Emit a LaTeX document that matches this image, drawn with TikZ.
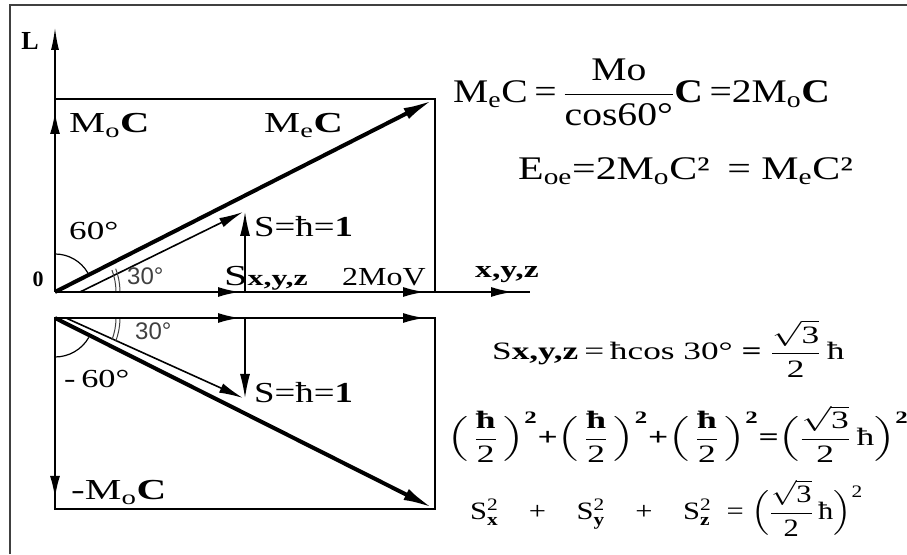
\RequirePackage{fix-cm}
\documentclass[tikz,border=0pt]{standalone}
\usepackage{amsmath}
\usepackage{graphicx}
\usepackage{fontspec}
\setmainfont{Liberation Serif}
\newfontfamily\sansf{Liberation Sans}
\newcommand{\hx}[2]{\scalebox{#1}[1]{#2}}
\usetikzlibrary{arrows.meta}
\tikzset{
  frame/.style={line width=1.5pt, draw=black!75},
  edge/.style={line width=2.2pt},
  axis/.style={line width=1.3pt},
  bigvec/.style={line width=4pt, -{Latex[length=30pt,width=12pt]}},
  svec/.style={line width=1.6pt, -{Latex[length=24pt,width=10pt]}},
  midtip/.style={line width=2pt, -{Latex[length=22pt,width=10pt]}},
  angarc/.style={line width=1.2pt},
  smallarc/.style={line width=1pt, draw=black!75},
  lab/.style={inner sep=0pt, anchor=base west, font=\fontsize{29}{32}\selectfont},
  ang/.style={inner sep=0pt, anchor=base west, font=\fontsize{26}{28}\selectfont},
  angs/.style={inner sep=0pt, anchor=base west, text=black!75, font=\sansf\fontsize{24}{26}\selectfont},
  eqa/.style={inner sep=0pt, anchor=base west, font=\fontsize{33}{36}\selectfont},
  eqb/.style={inner sep=0pt, anchor=west, font=\fontsize{25}{28}\selectfont},
}
\begin{document}
\begin{tikzpicture}[x=1pt,y=1pt]
\useasboundingbox (0,0) rectangle (907,554);
% frame
\draw[frame] (10,0) -- (10,549) -- (907,549);
% coordinates
\coordinate (O) at (55,262);
\coordinate (Ltop) at (55,526);
\coordinate (UL) at (55,455);
\coordinate (UR) at (435,455);
\coordinate (BR) at (435,262);
\coordinate (Xend) at (530,262);
\coordinate (UTip) at (433,454);
\coordinate (USs) at (80,262);
\coordinate (USt) at (243,342);
\coordinate (USf) at (245,262);
\coordinate (USv) at (245,342);
\coordinate (O2) at (55,236);
\coordinate (LTR) at (435,236);
\coordinate (LBR) at (435,45);
\coordinate (LBL) at (55,45);
\coordinate (LTip) at (433,46);
\coordinate (LSs) at (66,236);
\coordinate (LSt) at (243,156);
\coordinate (LSf) at (245,236);
\coordinate (LSv) at (245,156);
\coordinate (A1) at (240,262);
\coordinate (A2) at (425,262);
\coordinate (A3) at (513,262);
\coordinate (B1) at (240,236);
\coordinate (B2) at (425,236);
\coordinate (Mo) at (55,442);
\coordinate (mMo) at (55,56);
% upper rectangle and axes
\draw[axis] (O) -- (Xend);
\draw[axis, -{Latex[length=22pt,width=8pt]}] (UL) -- (Ltop);
\draw[edge] (O) -- (UL) -- (UR) -- (BR);
\draw[edge] (O) -- (BR);
% lower rectangle
\draw[edge] (O2) -- (LTR) -- (LBR) -- (LBL) -- cycle;
% mid arrows
\draw[midtip] ([xshift=-22pt]A1) -- (A1);
\draw[midtip] ([xshift=-22pt]A2) -- (A2);
\draw[midtip] ([xshift=-22pt]A3) -- (A3);
\draw[midtip] ([xshift=-22pt]B1) -- (B1);
\draw[midtip] ([xshift=-22pt]B2) -- (B2);
\draw[midtip] ([yshift=-24pt]Mo) -- (Mo);
\draw[midtip] ([yshift=24pt]mMo) -- (mMo);
% vectors
\draw[bigvec] (O) -- (UTip);
\draw[svec] (USs) -- (USt);
\draw[svec, line width=1.3pt] (USf) -- (USv);
\draw[bigvec] (O2) -- (LTip);
\draw[svec] (LSs) -- (LSt);
\draw[svec, line width=1.3pt] (LSf) -- (LSv);
% angle arcs
\draw[angarc] ([shift={(90:38)}]O) arc[start angle=90, end angle=30, radius=38];
\draw[angarc] ([shift={(-90:39)}]O2) arc[start angle=-90, end angle=-30, radius=39];
\draw[smallarc] ([shift={(1:61)}]O) arc[start angle=1, end angle=21, radius=61];
\draw[smallarc] ([shift={(1:65)}]O) arc[start angle=1, end angle=21, radius=65];
\draw[smallarc] ([shift={(-1:61)}]O2) arc[start angle=-1, end angle=-21, radius=61];
\draw[smallarc] ([shift={(-1:65)}]O2) arc[start angle=-1, end angle=-21, radius=65];
% labels
\node[inner sep=0pt, font=\bfseries\fontsize{26}{28}\selectfont] (tL) at (30,513) {L};
\node[inner sep=0pt, font=\bfseries\fontsize{22}{24}\selectfont] (t0) at (38,275) {0};
\node[lab] (tMo) at (69,421) {\hx{1.4}{M$_{\text{o}}$\textbf{C}}};
\node[lab] (tMe) at (264,421) {\hx{1.4}{M$_{\text{e}}$\textbf{C}}};
\node[ang] (t60) at (69,314) {\hx{1.35}{60°}};
\node[angs] (t30a) at (127,269) {30°};
\node[lab] (tSa) at (254,317) {\hx{1.27}{S=ħ=\textbf{1}}};
\node[lab] (tSx) at (224,268) {\hx{1.45}{S\textbf{\fontsize{22}{24}\selectfont x,y,z}}};
\node[ang] (t2M) at (342,268) {\hx{1.23}{2MoV}};
\node[inner sep=0pt, anchor=base west, font=\bfseries\fontsize{24}{26}\selectfont] (txyz) at (475,276) {\hx{1.4}{x,y,z}};
\node[angs] (t30b) at (135,214) {30°};
\node[ang] (tm60) at (64,166) {\hx{1.32}{-\,60°}};
\node[lab] (tSb) at (254,151) {\hx{1.27}{S=ħ=\textbf{1}}};
\node[lab] (tmMo) at (71,54) {\hx{1.42}{-M$_{\text{o}}$\textbf{C}}};
% equations
\node[eqa] (e1) at (453,451) {\hx{1.2}{M$_{\text{e}}$C$\,$=$\,\dfrac{\text{Mo}}{\text{cos60°}}$\textbf{C}$\,$=2M$_{\text{o}}$\textbf{C}}};
\node[eqa] (e2) at (518,374) {\hx{1.27}{E$_{\text{oe}}$=2M$_{\text{o}}$C² \,= M$_{\text{e}}$C²}};
\node[eqb, anchor=base west] (e3) at (492,194) {\hx{1.41}{S\textbf{x,y,z}$\,$=$\,$ħcos 30° \textbf{=} $\dfrac{\sqrt{\text{3}}}{\text{2}}\,\text{ħ}$}};
\node[eqb] (e4) at (447,120) {\hx{1.42}{$\Bigl(\,\dfrac{\textbf{ħ}}{\text{2}}\,\Bigr)^{\textbf{2}}$\textbf{+}$\Bigl(\,\dfrac{\textbf{ħ}}{\text{2}}\,\Bigr)^{\textbf{2}}$\textbf{+}$\Bigl(\,\dfrac{\textbf{ħ}}{\text{2}}\,\Bigr)^{\textbf{2}}$\textbf{=}$\Bigl(\dfrac{\sqrt{\text{3}}}{\text{2}}\,\text{ħ}\Bigr)^{\textbf{2}}$}};
\node[eqb] (e5) at (470,46) {\hx{1.22}{S$^{\text{2}}_{\textbf{x}}$\quad+\quad S$^{\text{2}}_{\textbf{y}}$\quad+\quad S$^{\text{2}}_{\textbf{z}}$\enspace= $\Bigl(\dfrac{\sqrt{\text{3}}}{\text{2}}\,\text{ħ}\Bigr)^{\text{2}}$}};
\end{tikzpicture}
\end{document}
